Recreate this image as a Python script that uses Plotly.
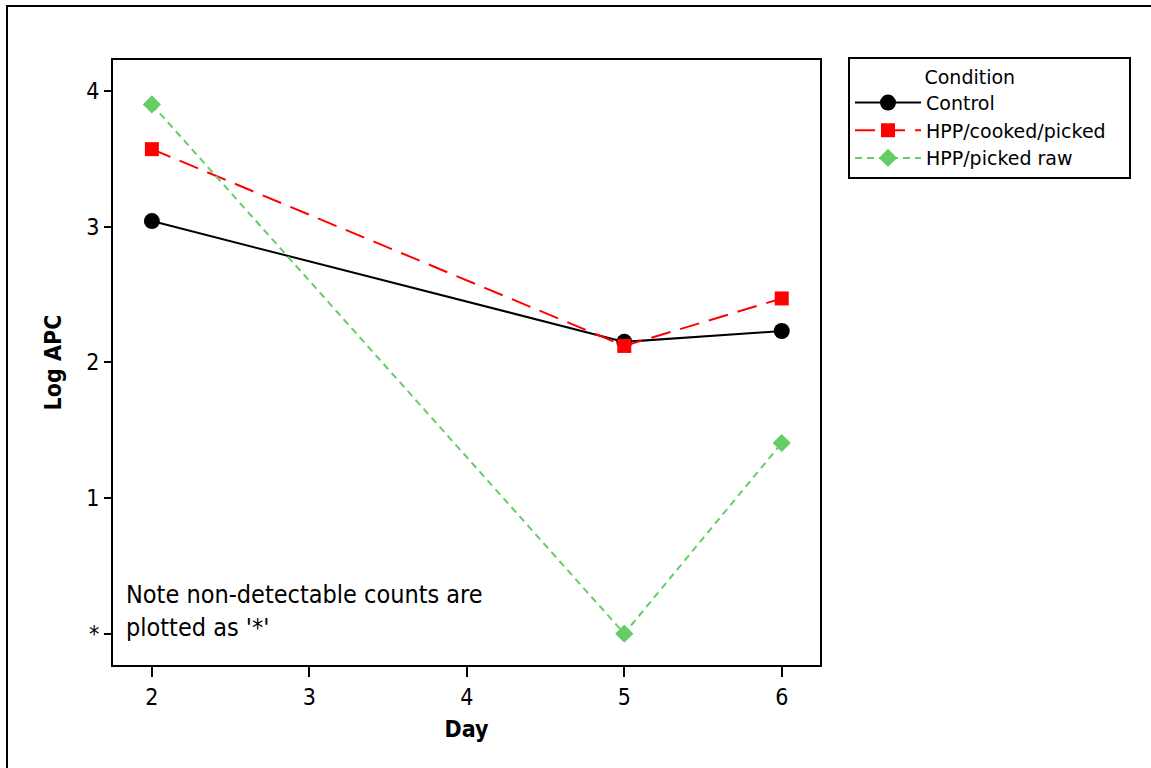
import plotly.graph_objects as go

days = [2, 5, 6]
control = [3.04, 2.15, 2.23]
hpp_cooked = [3.57, 2.12, 2.47]
hpp_raw = [3.90, 0.0, 1.405]

x_ticks = [2, 3, 4, 5, 6]
y_tickvals = [0, 1, 2, 3, 4]
y_ticktext = ["*", "1", "2", "3", "4"]

FONT = "DejaVu Sans Condensed, DejaVu Sans, Liberation Sans, sans-serif"
LFONT = "DejaVu Sans, Liberation Sans, sans-serif"

fig = go.Figure()
fig.add_trace(go.Scatter(
    x=days, y=control, name="Control", mode="lines+markers",
    line=dict(color="black", width=2),
    marker=dict(symbol="circle", size=16, color="black"),
))
fig.add_trace(go.Scatter(
    x=days, y=hpp_cooked, name="HPP/cooked/picked\u00a0\u00a0\u00a0", mode="lines+markers",
    line=dict(color="#ff0000", width=2, dash="20px,10px"),
    marker=dict(symbol="square", size=14, color="#ff0000"),
))
fig.add_trace(go.Scatter(
    x=days, y=hpp_raw, name="HPP/picked raw", mode="lines+markers",
    line=dict(color="#66cc66", width=2, dash="7px,5px"),
    marker=dict(symbol="diamond", size=14, color="#66cc66"),
))

axis_common = dict(
    showline=True, linecolor="black", linewidth=2, mirror=True,
    showgrid=False, zeroline=False, ticks="outside", tickcolor="black",
    tickwidth=2, tickfont=dict(family=FONT, size=23, color="black"),
)

fig.update_layout(
    width=1151, height=768,
    margin=dict(l=113, r=331, t=60, b=103),
    paper_bgcolor="white", plot_bgcolor="white",
    font=dict(family=FONT, color="black"),
    xaxis=dict(range=[1.753, 6.243], tickvals=x_ticks, ticklen=10,
               title=dict(text="<b>Day</b>", font=dict(family=FONT, size=23), standoff=12),
               **axis_common),
    yaxis=dict(range=[-0.231, 4.227], tickvals=y_tickvals, ticktext=y_ticktext, ticklen=7,
               title=dict(text="<b>Log APC</b>", font=dict(family=FONT, size=23), standoff=18),
               **axis_common),
    legend=dict(
        x=(848 - 113) / 707, y=(665 - 57) / 605, xanchor="left", yanchor="top",
        bordercolor="black", borderwidth=2, bgcolor="white",
        font=dict(family=LFONT, size=19, color="black"),
        title=dict(text="\u00a0" * 12 + "Condition", font=dict(family=LFONT, size=19)),
        itemwidth=66, tracegroupgap=0,
    ),
    showlegend=True,
)

fig.add_annotation(
    text="Note non-detectable counts are<br>plotted as '*'",
    xref="paper", yref="paper", x=(124 - 113) / 707, y=(665 - 578) / 605,
    xanchor="left", yanchor="top", align="left", showarrow=False,
    font=dict(family=FONT, size=25, color="black"),
)

fig.add_shape(
    type="rect", xref="paper", yref="paper",
    x0=(7 - 113) / 707, x1=(1170 - 113) / 707,
    y0=(665 - 790) / 605, y1=(665 - 6) / 605,
    line=dict(color="black", width=2), fillcolor="rgba(0,0,0,0)", layer="below",
)

fig.write_html(
    "out.html",
    config={"displayModeBar": False},
    post_script="document.body.style.margin='0px';document.body.style.overflow='hidden';",
)
